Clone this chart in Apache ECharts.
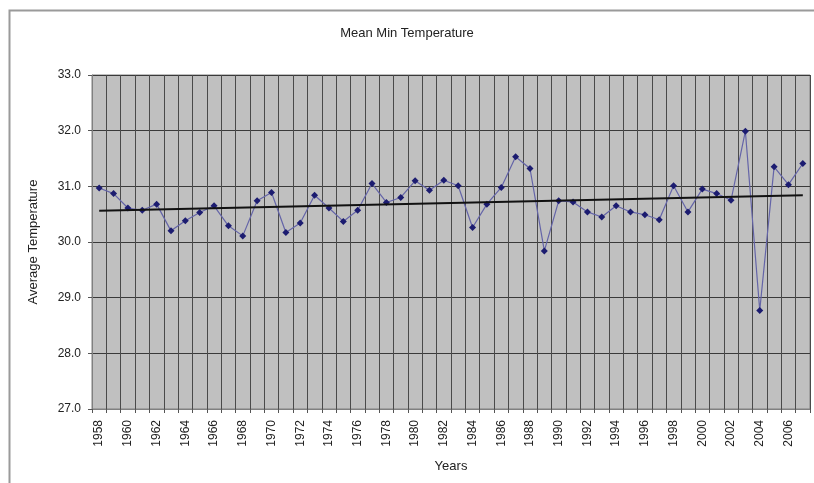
<!DOCTYPE html>
<html>
<head>
<meta charset="utf-8">
<script src="https://cdn.jsdelivr.net/npm/echarts@6/dist/echarts.min.js"></script>
<style>
html,body{margin:0;padding:0;background:#fff;}
#chart{width:814px;height:483px;}
</style>
</head>
<body>
<div id="chart"></div>
<script>
var years = [];
for (var y = 1958; y <= 2007; y++) years.push(String(y));
var meanMin = [
  30.97, 30.87, 30.61, 30.57, 30.68, 30.20, 30.38, 30.53, 30.65, 30.29,
  30.11, 30.74, 30.89, 30.17, 30.34, 30.84, 30.61, 30.37, 30.57, 31.05,
  30.71, 30.80, 31.10, 30.93, 31.11, 31.01, 30.26, 30.68, 30.98, 31.53,
  31.32, 29.84, 30.74, 30.72, 30.54, 30.45, 30.65, 30.54, 30.49, 30.40,
  31.01, 30.54, 30.95, 30.87, 30.75, 31.99, 28.77, 31.35, 31.03, 31.41
];
var trendEnds = [30.56, 30.84];

var chart = echarts.init(document.getElementById('chart'));
var font = 'Liberation Sans, Arial, sans-serif';
chart.setOption({
  animation: false,
  backgroundColor: '#ffffff',
  graphic: [{
    type: 'rect', left: 7, top: 8, silent: true,
    shape: { x: 0, y: 0, width: 900, height: 600 },
    style: { fill: 'none', stroke: '#9a9a9a', lineWidth: 2 }
  }],
  title: {
    text: 'Mean Min Temperature', left: 'center', top: 22,
    textStyle: { fontFamily: font, fontSize: 13, fontWeight: 'normal', color: '#222' }
  },
  grid: {
    left: 92, right: 4, top: 75, bottom: 74,
    show: true, backgroundColor: '#c0c0c0', borderColor: '#808080', borderWidth: 1
  },
  xAxis: {
    type: 'category', data: years, boundaryGap: true,
    name: 'Years', nameLocation: 'middle', nameGap: 51,
    nameTextStyle: { fontFamily: font, fontSize: 13, color: '#222' },
    axisLine: { show: true, lineStyle: { color: '#808080' } },
    axisTick: { show: true, interval: 0, length: 4, lineStyle: { color: '#555' } },
    axisLabel: { interval: 1, rotate: 90, fontFamily: font, fontSize: 12, color: '#222', margin: 11 },
    splitLine: { show: true, interval: 0, lineStyle: { color: '#4a4a4a', width: 1 } }
  },
  yAxis: {
    type: 'value', min: 27, max: 33, interval: 1,
    name: 'Average Temperature', nameLocation: 'middle', nameGap: 52,
    nameTextStyle: { fontFamily: font, fontSize: 13, color: '#222' },
    axisLine: { show: true, lineStyle: { color: '#808080' } },
    axisTick: { show: true, length: 4, lineStyle: { color: '#555' } },
    axisLabel: { fontFamily: font, fontSize: 12, color: '#222', margin: 11,
      formatter: function (v) { return v.toFixed(1); } },
    splitLine: { show: true, lineStyle: { color: '#3a3a3a', width: 1 } }
  },
  series: [{
    type: 'line', data: meanMin,
    symbol: 'diamond', symbolSize: 7,
    lineStyle: { color: '#6464a8', width: 1.2 },
    itemStyle: { color: '#1c1c70' },
    markLine: {
      silent: true, symbol: 'none', label: { show: false },
      lineStyle: { color: '#111', width: 2, type: 'solid' },
      data: [[{ coord: [years[0], trendEnds[0]] }, { coord: [years[years.length - 1], trendEnds[1]] }]]
    }
  }]
});
</script>
</body>
</html>
